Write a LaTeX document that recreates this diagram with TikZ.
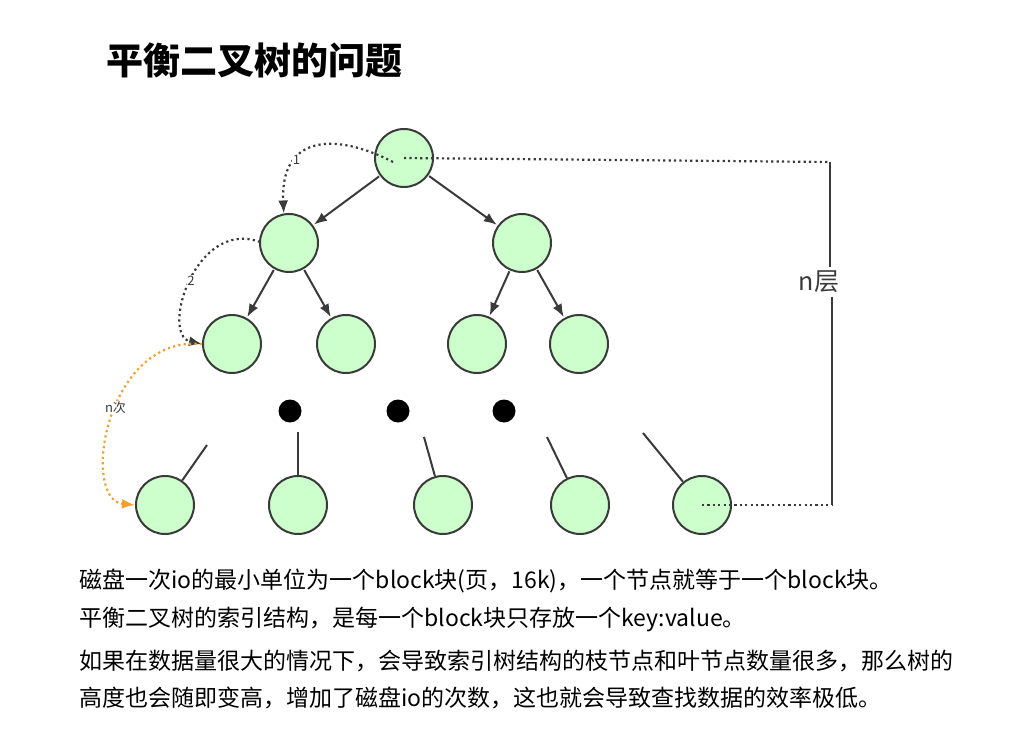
\documentclass[tikz,border=0pt]{standalone}
\usepackage{fontspec}
\setmainfont{Noto Sans CJK SC}
\usetikzlibrary{arrows.meta}
\definecolor{leaf}{HTML}{CCFFCC}
\definecolor{edge}{HTML}{3A3A3A}
\definecolor{hop}{HTML}{F0A030}
\begin{document}
\begin{tikzpicture}[x=1pt,y=-1pt]
    \tikzset{>={Latex[length=13pt,width=10pt]}}
    \tikzset{blk/.style={circle,draw=edge,fill=leaf,line width=2pt,minimum size=58pt,inner sep=0pt},
             dot/.style={circle,fill=black,minimum size=23pt,inner sep=0pt},
             link/.style={->,draw=edge,line width=2pt,shorten >=1pt,shorten <=1pt},
             walk/.style={->,line width=2.2pt,dash pattern=on 2.2pt off 3.2pt},
             lbl/.style={font=\fontsize{13}{14}\selectfont,text=edge}}
    \useasboundingbox (0,0) rectangle (1028,749);
    % title
    \node[anchor=west,font=\fontsize{37}{40}\selectfont\bfseries] (title) at (103,60) {平衡二叉树的问题};
    % tree
    \node[blk] (r) at (404,158) {};
    \node[blk] (a) at (289,243) {};
    \node[blk] (b) at (522,243) {};
    \node[blk] (a1) at (232,344) {};
    \node[blk] (a2) at (346,344) {};
    \node[blk] (b1) at (477,344) {};
    \node[blk] (b2) at (579,344) {};
    \node[dot] (d1) at (290,411) {};
    \node[dot] (d2) at (398,411) {};
    \node[dot] (d3) at (504,411) {};
    \node[blk] (l1) at (165,505) {};
    \node[blk] (l2) at (298,505) {};
    \node[blk] (l3) at (443,505) {};
    \node[blk] (l4) at (580,505) {};
    \node[blk] (l5) at (702,505) {};
    \draw [link] (r) -- (a);
    \draw [link] (r) -- (b);
    \draw [link] (a) -- (a1);
    \draw [link] (a) -- (a2);
    \draw [link] (b) -- (b1);
    \draw [link] (b) -- (b2);
    % stubs above leaves
    \coordinate (s1) at (207,445);
    \coordinate (s2) at (298,432);
    \coordinate (s3) at (424,437);
    \coordinate (s4) at (547,437);
    \coordinate (s5) at (643,433);
    \draw [draw=edge,line width=2pt] (s1) -- (l1);
    \draw [draw=edge,line width=2pt] (s2) -- (l2);
    \draw [draw=edge,line width=2pt] (s3) -- (l3);
    \draw [draw=edge,line width=2pt] (s4) -- (l4);
    \draw [draw=edge,line width=2pt] (s5) -- (l5);
    % io hops
    \coordinate (p1) at (393,162);
    \coordinate (p2) at (260,242);
    \draw [walk,draw=edge] (p1) .. controls (335,132) and (280,135) .. (a.100) node[lbl,pos=0.68,fill=white,inner sep=0.5pt] (n1) {1};
    \draw [walk,draw=edge] (p2) .. controls (195,218) and (160,335) .. (a1.west) node[lbl,pos=0.5,fill=white,inner sep=0.5pt] (n2) {2};
    \draw [walk,draw=hop] (a1.west) .. controls (105,335) and (80,500) .. (l1.west) node[lbl,pos=0.45,fill=white,inner sep=0.5pt] (nn) {n次};
    % height
    \coordinate (t) at (830,162);
    \coordinate (u) at (832,505);
    \node[font=\fontsize{25}{27}\selectfont,text=edge] (h) at (819,282) {n层};
    \draw [line width=2.2pt,dash pattern=on 2.2pt off 3.2pt,draw=edge] (r.center) -- (t);
    \draw [line width=2.2pt,dash pattern=on 2.2pt off 3.2pt,draw=edge] (l5.center) -- (u);
    \draw [draw=edge,line width=2pt] (t) -- (h.north -| t);
    \draw [draw=edge,line width=2pt] (h.south -| u) -- (u);
    % notes
    \node[anchor=west,font=\fontsize{23}{26}\selectfont] (t1) at (76,581) {磁盘一次io的最小单位为一个block块(页，16k)，一个节点就等于一个block块。};
    \node[anchor=west,font=\fontsize{23}{26}\selectfont] (t2) at (76,619) {平衡二叉树的索引结构，是每一个block块只存放一个key:value。};
    \node[anchor=west,font=\fontsize{23}{26}\selectfont] (t3) at (76,661) {如果在数据量很大的情况下，会导致索引树结构的枝节点和叶节点数量很多，那么树的};
    \node[anchor=west,font=\fontsize{23}{26}\selectfont] (t4) at (76,698) {高度也会随即变高，增加了磁盘io的次数，这也就会导致查找数据的效率极低。};
\end{tikzpicture}
\end{document}
